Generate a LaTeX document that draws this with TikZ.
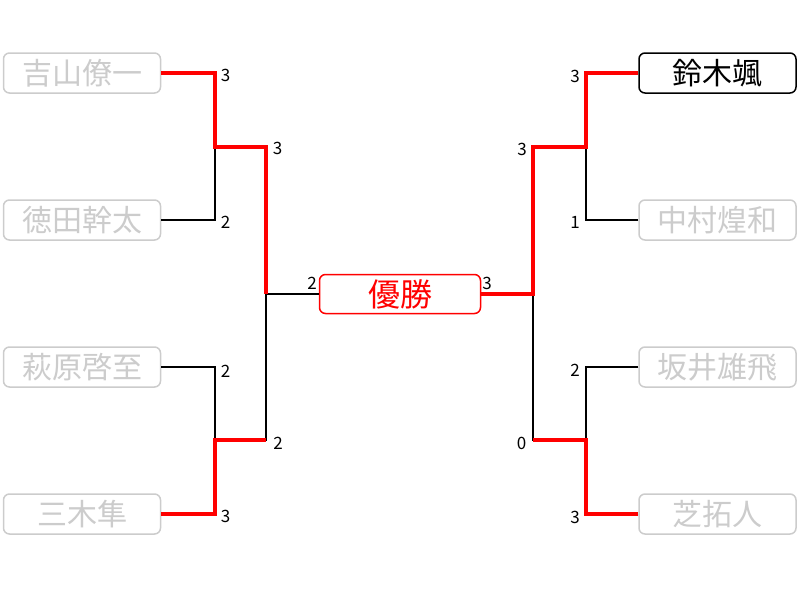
\documentclass[tikz,border=0pt]{standalone}
\usepackage{fontspec}
\setmainfont{Noto Sans CJK JP}
\usetikzlibrary{positioning, calc}
\definecolor{tgray}{RGB}{204, 204, 204}
\definecolor{tred}{RGB}{255, 0, 0}

\begin{document}
\begin{tikzpicture}[
  x=1pt, y=-1pt,
  pbox/.style={draw=tgray, text=tgray, fill=white, rounded corners=6pt, line width=1.5pt, minimum width=157pt, minimum height=40pt, inner sep=0pt, font=\fontsize{30}{30}\selectfont},
  wbox/.style={pbox, draw=black, text=black},
  cbox/.style={pbox, draw=tred, text=tred, minimum width=161pt, minimum height=39pt, font=\fontsize{32}{32}\selectfont},
  lose/.style={draw=black, line width=1.5pt},
  win/.style={draw=tred, line width=3.2pt},
  score/.style={inner sep=0pt, font=\fontsize{17}{17}\selectfont}
]
  \useasboundingbox (0,0) rectangle (800,600);

  % players
  \node[pbox] (p1) at (82, 73) {吉山僚一};
  \node[pbox] (p2) at (82, 220) {徳田幹太};
  \node[pbox] (p3) at (82, 367) {萩原啓至};
  \node[pbox] (p4) at (82, 514) {三木隼};
  \node[wbox] (p5) at (717.5, 73) {鈴木颯};
  \node[pbox] (p6) at (717.5, 220) {中村煌和};
  \node[pbox] (p7) at (717.5, 367) {坂井雄飛};
  \node[pbox] (p8) at (717.5, 514) {芝拓人};
  \node[cbox] (champ) at (400, 294) {優勝};

  % joints
  \coordinate (j1) at (215, 147);
  \coordinate (j2) at (215, 440);
  \coordinate (k1) at (266, 294);
  \coordinate (j3) at (586, 147);
  \coordinate (j4) at (586, 440);
  \coordinate (k2) at (533, 294);

  % bracket
  \draw[lose] (p1.east) -| (j1);
  \draw[lose] (p2.east) -| (j1);
  \draw[lose] (p3.east) -| (j2);
  \draw[lose] (p4.east) -| (j2);
  \draw[lose] (j1) -| (k1);
  \draw[lose] (j2) -| (k1);
  \draw[lose] (k1) -- (champ.west);
  \draw[lose] (p5.west) -| (j3);
  \draw[lose] (p6.west) -| (j3);
  \draw[lose] (p7.west) -| (j4);
  \draw[lose] (p8.west) -| (j4);
  \draw[lose] (j3) -| (k2);
  \draw[lose] (j4) -| (k2);

  % winners
  \draw[win] (p1.east) -| (j1) -| (k1);
  \draw[win] (p4.east) -| (j2) -- (j2 -| k1);
  \draw[win] (p5.west) -| (j3) -| (k2) -- (champ.east);
  \draw[win] (p8.west) -| (j4) -- (j4 -| k2);

  % scores
  \node[score] (s1) at (225.5, 75.5) {3};
  \node[score] (s2) at (225.5, 222.5) {2};
  \node[score] (s3) at (225.5, 371) {2};
  \node[score] (s4) at (225.5, 516.5) {3};
  \node[score] (s5) at (277.5, 148.5) {3};
  \node[score] (s6) at (278, 443) {2};
  \node[score] (s7) at (312, 283) {2};
  \node[score] (s8) at (487, 283) {3};
  \node[score] (s9) at (575, 76) {3};
  \node[score] (s10) at (575, 222.5) {1};
  \node[score] (s11) at (575, 370.5) {2};
  \node[score] (s12) at (575, 517) {3};
  \node[score] (s13) at (522, 149.5) {3};
  \node[score] (s14) at (521.5, 443) {0};
\end{tikzpicture}
\end{document}
